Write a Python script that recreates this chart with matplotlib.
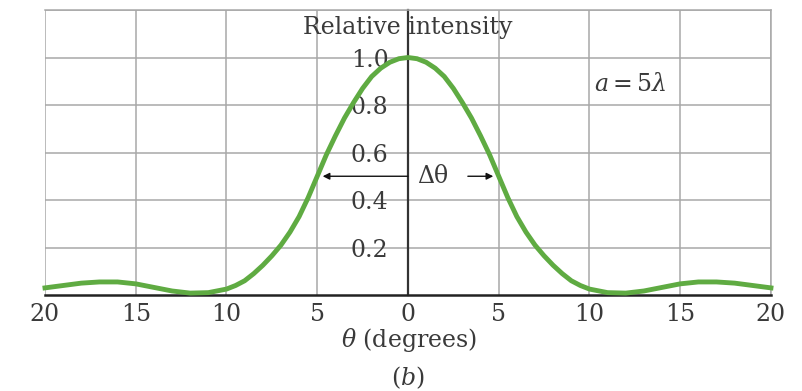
import matplotlib
matplotlib.use("Agg")
import matplotlib.pyplot as plt

plt.rcParams["font.family"] = "DejaVu Serif"
plt.rcParams["mathtext.fontset"] = "dejavuserif"

# single-slit pattern, a = 5 lambda: relative intensity vs angle (degrees)
theta = [-20, -19, -18, -17, -16, -15, -14, -13, -12, -11,
         -10, -9.5, -9, -8.5, -8, -7.5, -7, -6.5, -6, -5.5,
         -5, -4.5, -4, -3.5, -3, -2.5, -2, -1.5, -1, -0.5,
         0,
         0.5, 1, 1.5, 2, 2.5, 3, 3.5, 4, 4.5, 5,
         5.5, 6, 6.5, 7, 7.5, 8, 8.5, 9, 9.5, 10,
         11, 12, 13, 14, 15, 16, 17, 18, 19, 20]
intensity = [0.030, 0.040, 0.050, 0.055, 0.055, 0.047, 0.032, 0.017, 0.008, 0.010,
             0.025, 0.040, 0.060, 0.090, 0.125, 0.165, 0.210, 0.265, 0.330, 0.410,
             0.500, 0.590, 0.670, 0.745, 0.810, 0.870, 0.920, 0.955, 0.980, 0.995,
             1.000,
             0.995, 0.980, 0.955, 0.920, 0.870, 0.810, 0.745, 0.670, 0.590, 0.500,
             0.410, 0.330, 0.265, 0.210, 0.165, 0.125, 0.090, 0.060, 0.040, 0.025,
             0.010, 0.008, 0.017, 0.032, 0.047, 0.055, 0.055, 0.050, 0.040, 0.030]

x_ticks = [-20, -15, -10, -5, 0, 5, 10, 15, 20]
x_labels = ["20", "15", "10", "5", "0", "5", "10", "15", "20"]
y_ticks = [0.2, 0.4, 0.6, 0.8, 1.0]
y_labels = ["0.2", "0.4", "0.6", "0.8", "1.0"]
half_width = 4.7  # arrow tips for the delta-theta marker

TXT = "#3a3a3a"
GRID = "#a8a8a8"
FS = 17

fig = plt.figure(figsize=(8.02, 3.91), dpi=100)
ax = fig.add_axes([0.0561, 0.2455, 0.9052, 0.7289])
ax.set_xlim(-20, 20)
ax.set_ylim(0, 1.2)

ax.set_xticks(x_ticks)
ax.set_xticklabels(x_labels)
ax.set_yticks(y_ticks)
ax.set_yticklabels(y_labels)
ax.set_yticks([1.2], minor=True)
ax.tick_params(axis="both", which="both", length=0, labelsize=FS, colors=TXT)
ax.tick_params(axis="x", pad=6)
ax.tick_params(axis="y", pad=14)
ax.grid(True, which="both", color=GRID, lw=1.1)
ax.set_axisbelow(True)

ax.spines["left"].set_position(("data", 0))
ax.spines["left"].set_color("#333333")
ax.spines["left"].set_linewidth(1.6)
ax.spines["bottom"].set_color("#222222")
ax.spines["bottom"].set_linewidth(1.8)
for side in ("top", "right"):
    ax.spines[side].set_color(GRID)
    ax.spines[side].set_linewidth(1.1)

ax.plot(theta, intensity, color="#5fab42", lw=3.5, solid_joinstyle="round",
        zorder=3, clip_on=False)

ax.text(0, 1.125, "Relative intensity", ha="center", va="center", fontsize=FS, color=TXT)
ax.text(10.25, 0.885, r"$a = 5\lambda$", ha="left", va="center", fontsize=FS, color=TXT)

# delta-theta marker at half maximum
ax.annotate("", xy=(-half_width, 0.5), xytext=(0, 0.5),
            arrowprops=dict(arrowstyle="-|>", color="#111111", lw=1.0,
                            mutation_scale=10, shrinkA=0, shrinkB=0))
ax.text(0.5, 0.5, "Δθ", ha="left", va="center", fontsize=FS, color=TXT)
ax.annotate("", xy=(half_width, 0.5), xytext=(3.3, 0.5),
            arrowprops=dict(arrowstyle="-|>", color="#111111", lw=1.0,
                            mutation_scale=10, shrinkA=0, shrinkB=0))

fig.text(0.51, 0.13, r"$\theta$ (degrees)", ha="center", va="center", fontsize=FS, color=TXT)
fig.text(0.508, 0.033, r"($b$)", ha="center", va="center", fontsize=FS, color=TXT)

fig.savefig("out.png", dpi=100, facecolor="white")
